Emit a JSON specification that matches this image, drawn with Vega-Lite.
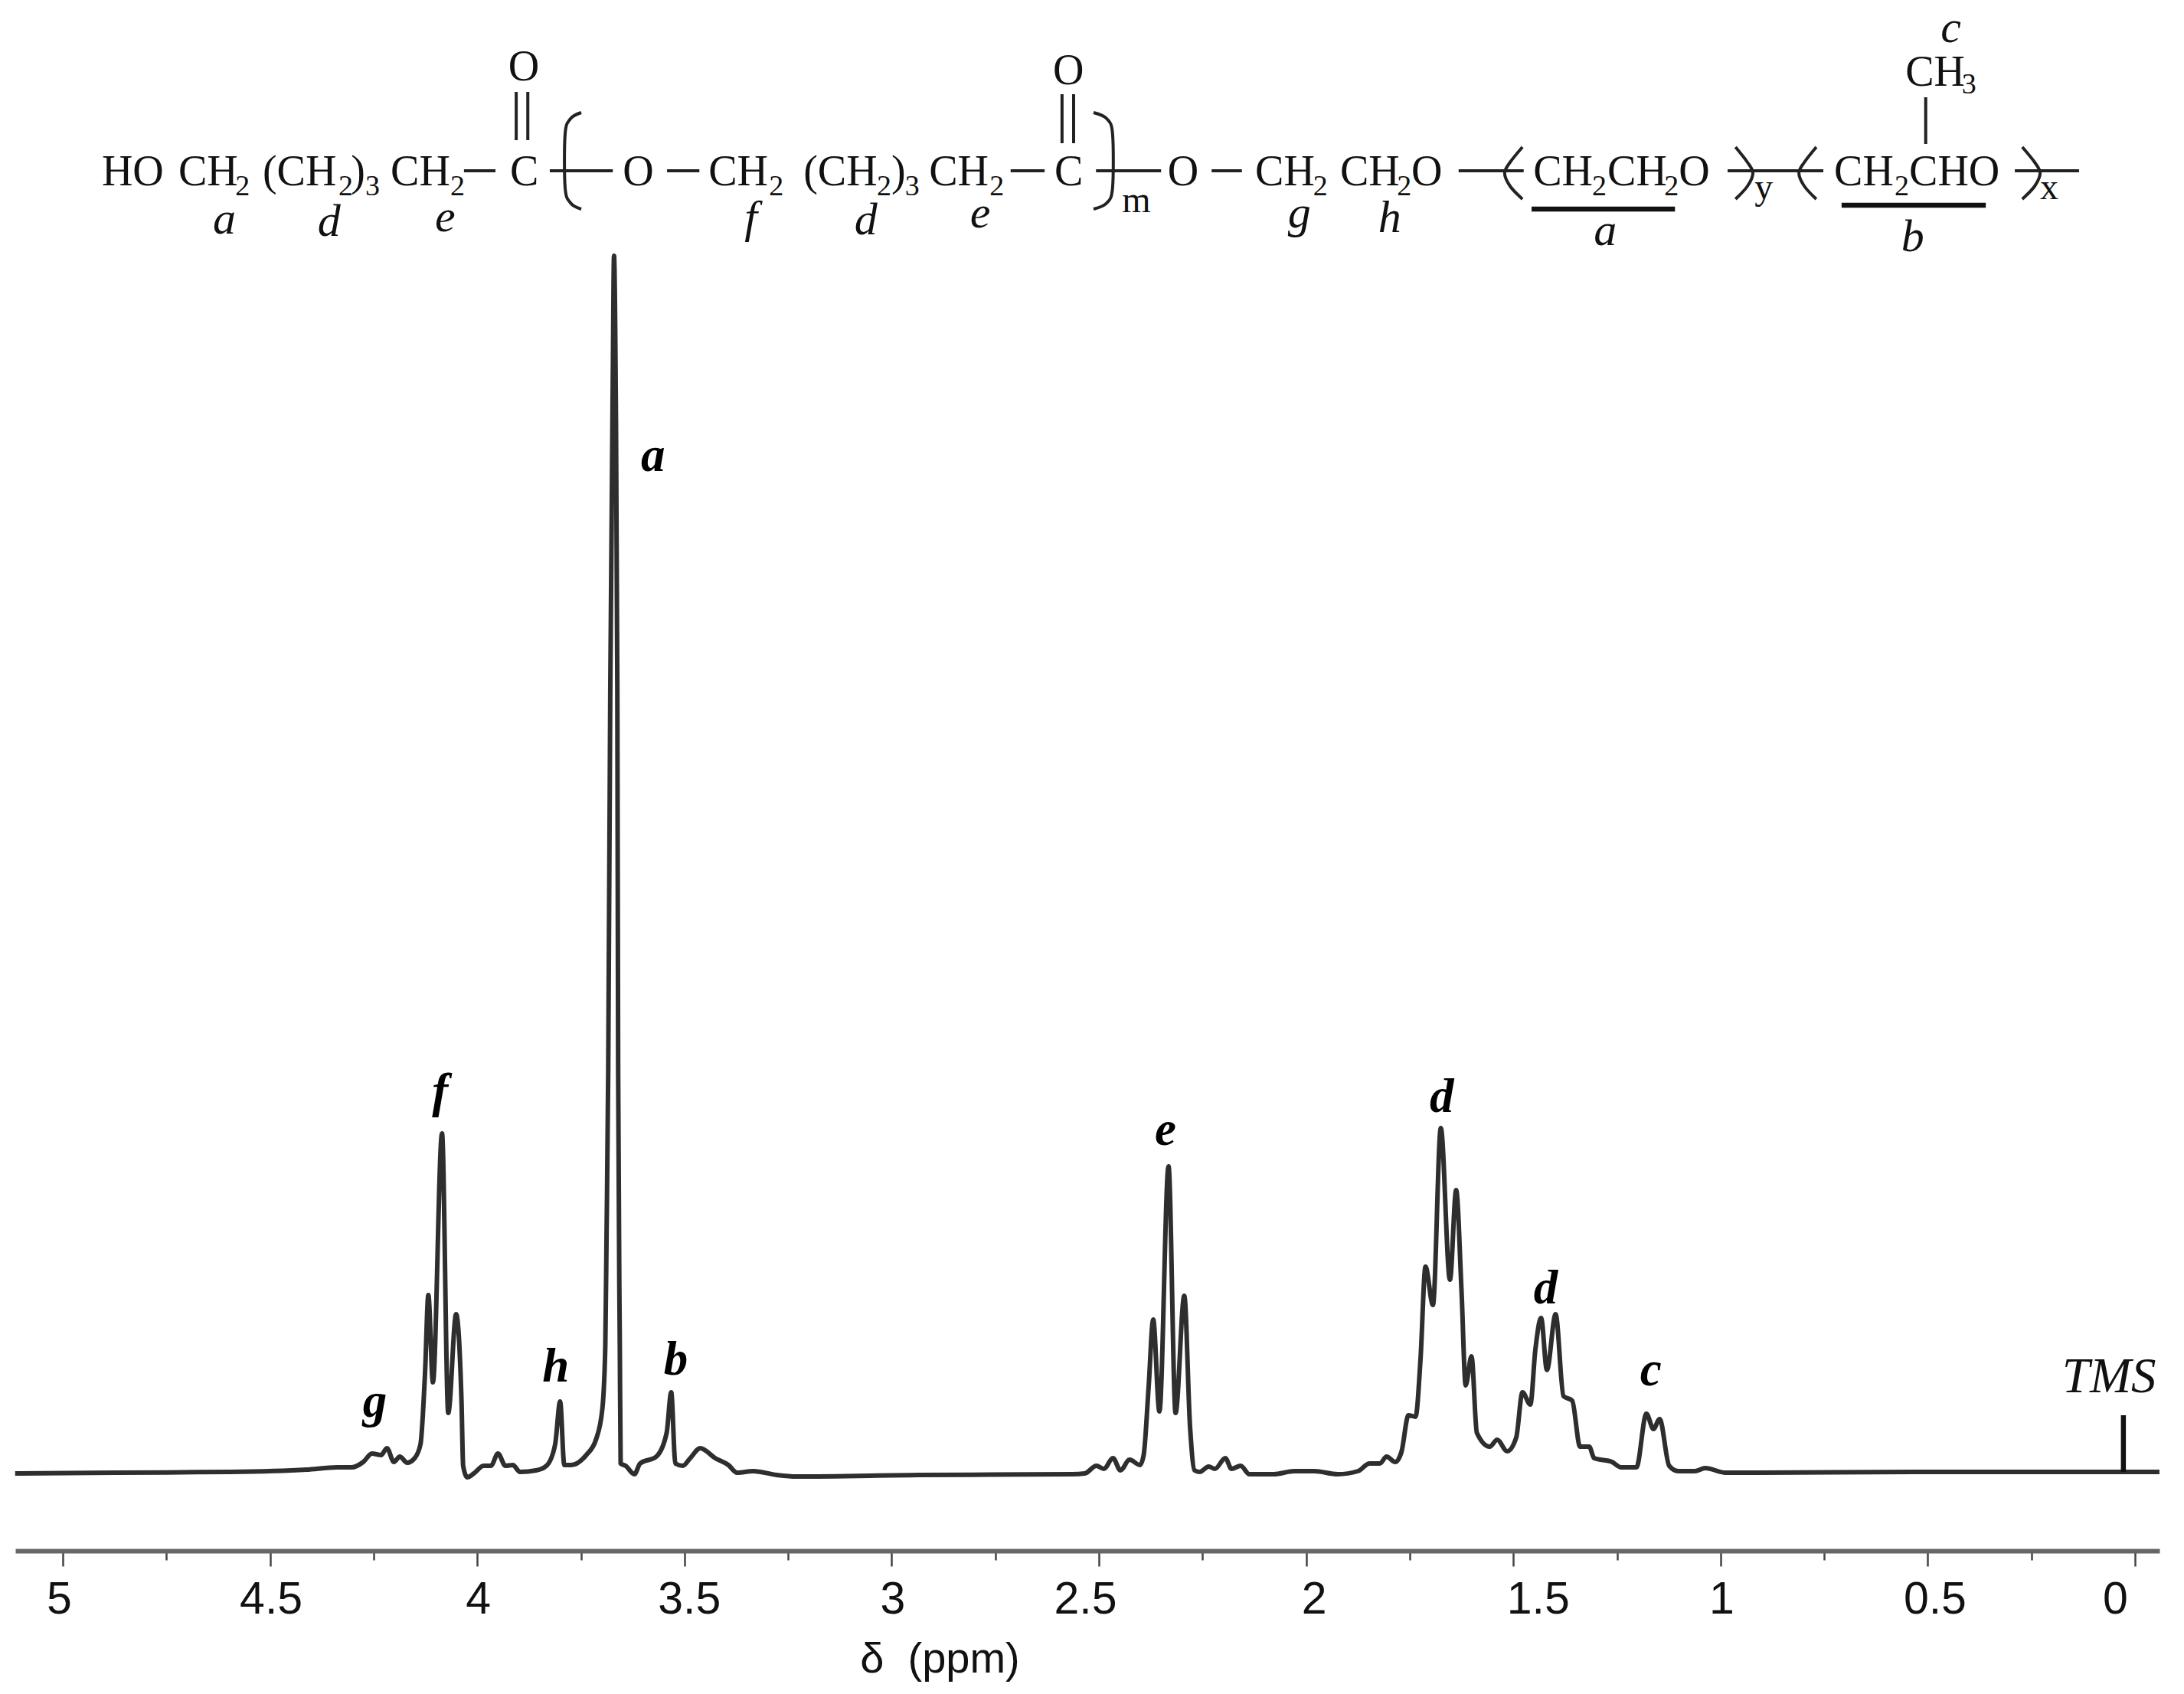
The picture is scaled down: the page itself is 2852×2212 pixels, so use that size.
{
"$schema":"https://vega.github.io/schema/vega-lite/v6.json",
"width":2800,"height":2025,
"autosize":{"type":"none"},
"padding":{"left":20,"top":0,"right":32,"bottom":187},
"background":"white",
"config":{"view":{"stroke":null}},
"datasets":{
"spectrum":[
{"ppm":5.115,"i":-2},{"ppm":4.874,"i":-1},{"ppm":4.597,"i":0},{"ppm":4.412,"i":3},{"ppm":4.338,"i":6},{"ppm":4.303,"i":6},{"ppm":4.275,"i":13},{"ppm":4.254,"i":24},{"ppm":4.232,"i":22},{"ppm":4.218,"i":31},{"ppm":4.201,"i":13},{"ppm":4.187,"i":20},{"ppm":4.169,"i":12},{"ppm":4.151,"i":18},{"ppm":4.137,"i":36},{"ppm":4.126,"i":129},{"ppm":4.118,"i":231},{"ppm":4.107,"i":117},{"ppm":4.085,"i":442},{"ppm":4.070,"i":77},{"ppm":4.051,"i":206},{"ppm":4.038,"i":93},{"ppm":4.034,"i":8},{"ppm":4.024,"i":-7},{"ppm":4.006,"i":-1},{"ppm":3.985,"i":8},{"ppm":3.967,"i":8},{"ppm":3.950,"i":24},{"ppm":3.932,"i":8},{"ppm":3.914,"i":9},{"ppm":3.897,"i":0},{"ppm":3.858,"i":2},{"ppm":3.833,"i":8},{"ppm":3.812,"i":36},{"ppm":3.800,"i":92},{"ppm":3.790,"i":9},{"ppm":3.773,"i":9},{"ppm":3.737,"i":22},{"ppm":3.713,"i":43},{"ppm":3.698,"i":83},{"ppm":3.691,"i":165},{"ppm":3.688,"i":308},{"ppm":3.684,"i":522},{"ppm":3.679,"i":1022},{"ppm":3.673,"i":1422},{"ppm":3.670,"i":1588},{"ppm":3.666,"i":1422},{"ppm":3.662,"i":1022},{"ppm":3.660,"i":522},{"ppm":3.656,"i":165},{"ppm":3.654,"i":11},{"ppm":3.642,"i":8},{"ppm":3.621,"i":-3},{"ppm":3.607,"i":11},{"ppm":3.568,"i":20},{"ppm":3.543,"i":51},{"ppm":3.532,"i":104},{"ppm":3.522,"i":11},{"ppm":3.504,"i":8},{"ppm":3.486,"i":18},{"ppm":3.462,"i":31},{"ppm":3.426,"i":18},{"ppm":3.394,"i":9},{"ppm":3.373,"i":-1},{"ppm":3.334,"i":1},{"ppm":3.278,"i":-4},{"ppm":3.230,"i":-6},{"ppm":2.934,"i":-4},{"ppm":2.565,"i":-3},{"ppm":2.534,"i":-2},{"ppm":2.506,"i":8},{"ppm":2.488,"i":4},{"ppm":2.466,"i":18},{"ppm":2.448,"i":2},{"ppm":2.426,"i":16},{"ppm":2.401,"i":9},{"ppm":2.392,"i":22},{"ppm":2.380,"i":111},{"ppm":2.369,"i":199},{"ppm":2.354,"i":79},{"ppm":2.332,"i":399},{"ppm":2.315,"i":77},{"ppm":2.294,"i":230},{"ppm":2.280,"i":58},{"ppm":2.269,"i":2},{"ppm":2.257,"i":0},{"ppm":2.235,"i":7},{"ppm":2.220,"i":4},{"ppm":2.195,"i":18},{"ppm":2.180,"i":4},{"ppm":2.158,"i":8},{"ppm":2.137,"i":-3},{"ppm":2.078,"i":-3},{"ppm":2.029,"i":1},{"ppm":1.980,"i":1},{"ppm":1.924,"i":-3},{"ppm":1.875,"i":1},{"ppm":1.847,"i":11},{"ppm":1.822,"i":11},{"ppm":1.806,"i":20},{"ppm":1.785,"i":13},{"ppm":1.770,"i":26},{"ppm":1.753,"i":74},{"ppm":1.736,"i":72},{"ppm":1.724,"i":147},{"ppm":1.712,"i":268},{"ppm":1.694,"i":218},{"ppm":1.675,"i":449},{"ppm":1.653,"i":251},{"ppm":1.638,"i":368},{"ppm":1.625,"i":236},{"ppm":1.615,"i":113},{"ppm":1.601,"i":151},{"ppm":1.588,"i":51},{"ppm":1.557,"i":33},{"ppm":1.539,"i":42},{"ppm":1.515,"i":27},{"ppm":1.493,"i":45},{"ppm":1.478,"i":104},{"ppm":1.459,"i":88},{"ppm":1.447,"i":159},{"ppm":1.433,"i":201},{"ppm":1.419,"i":133},{"ppm":1.398,"i":206},{"ppm":1.379,"i":99},{"ppm":1.358,"i":93},{"ppm":1.339,"i":33},{"ppm":1.317,"i":33},{"ppm":1.305,"i":18},{"ppm":1.262,"i":13},{"ppm":1.240,"i":6},{"ppm":1.203,"i":6},{"ppm":1.179,"i":76},{"ppm":1.162,"i":56},{"ppm":1.147,"i":69},{"ppm":1.124,"i":8},{"ppm":1.102,"i":1},{"ppm":1.062,"i":1},{"ppm":1.037,"i":5},{"ppm":0.988,"i":-1},{"ppm":0.902,"i":-1},{"ppm":0.532,"i":0},{"ppm":-0.059,"i":0}
],
"bonds":[
{"id":"b1","n":1,"ppm":4.032,"i":1699},{"id":"b1","n":2,"ppm":3.956,"i":1699},
{"id":"b2","n":1,"ppm":3.825,"i":1699},{"id":"b2","n":2,"ppm":3.673,"i":1699},
{"id":"b3","n":1,"ppm":3.542,"i":1699},{"id":"b3","n":2,"ppm":3.464,"i":1699},
{"id":"b4","n":1,"ppm":2.713,"i":1699},{"id":"b4","n":2,"ppm":2.631,"i":1699},
{"id":"b5","n":1,"ppm":2.507,"i":1699},{"id":"b5","n":2,"ppm":2.350,"i":1699},
{"id":"b6","n":1,"ppm":2.228,"i":1699},{"id":"b6","n":2,"ppm":2.155,"i":1699},
{"id":"b7","n":1,"ppm":1.632,"i":1699},{"id":"b7","n":2,"ppm":1.475,"i":1699},
{"id":"b8","n":1,"ppm":0.983,"i":1699},{"id":"b8","n":2,"ppm":0.752,"i":1699},
{"id":"b9","n":1,"ppm":0.290,"i":1699},{"id":"b9","n":2,"ppm":0.135,"i":1699},
{"id":"d1","n":1,"ppm":3.906,"i":1802},{"id":"d1","n":2,"ppm":3.906,"i":1739},
{"id":"d2","n":1,"ppm":3.878,"i":1802},{"id":"d2","n":2,"ppm":3.878,"i":1739},
{"id":"d3","n":1,"ppm":2.589,"i":1799},{"id":"d3","n":2,"ppm":2.589,"i":1735},
{"id":"d4","n":1,"ppm":2.561,"i":1799},{"id":"d4","n":2,"ppm":2.561,"i":1735},
{"id":"v","n":1,"ppm":0.505,"i":1795},{"id":"v","n":2,"ppm":0.505,"i":1734},
{"id":"L","n":1,"ppm":3.749,"i":1775},{"id":"L","n":2,"ppm":3.775,"i":1767},{"id":"L","n":3,"ppm":3.788,"i":1747},{"id":"L","n":4,"ppm":3.788,"i":1677},{"id":"L","n":5,"ppm":3.775,"i":1657},{"id":"L","n":6,"ppm":3.749,"i":1649},
{"id":"R","n":1,"ppm":2.513,"i":1775},{"id":"R","n":2,"ppm":2.481,"i":1767},{"id":"R","n":3,"ppm":2.467,"i":1747},{"id":"R","n":4,"ppm":2.467,"i":1677},{"id":"R","n":5,"ppm":2.481,"i":1657},{"id":"R","n":6,"ppm":2.513,"i":1649},
{"id":"pa","n":1,"ppm":1.478,"i":1730},{"id":"pa","n":2,"ppm":1.508,"i":1710},{"id":"pa","n":3,"ppm":1.521,"i":1696},{"id":"pa","n":4,"ppm":1.508,"i":1679},{"id":"pa","n":5,"ppm":1.478,"i":1662},
{"id":"pb","n":1,"ppm":0.964,"i":1730},{"id":"pb","n":2,"ppm":0.935,"i":1710},{"id":"pb","n":3,"ppm":0.922,"i":1696},{"id":"pb","n":4,"ppm":0.935,"i":1679},{"id":"pb","n":5,"ppm":0.964,"i":1662},
{"id":"pc","n":1,"ppm":0.769,"i":1730},{"id":"pc","n":2,"ppm":0.798,"i":1710},{"id":"pc","n":3,"ppm":0.811,"i":1696},{"id":"pc","n":4,"ppm":0.798,"i":1679},{"id":"pc","n":5,"ppm":0.769,"i":1662},
{"id":"pd","n":1,"ppm":0.272,"i":1730},{"id":"pd","n":2,"ppm":0.242,"i":1710},{"id":"pd","n":3,"ppm":0.229,"i":1696},{"id":"pd","n":4,"ppm":0.242,"i":1679},{"id":"pd","n":5,"ppm":0.272,"i":1662}
],
"bars":[
{"id":"ua","n":1,"ppm":1.456,"i":1649},{"id":"ua","n":2,"ppm":1.110,"i":1649},
{"id":"ub","n":1,"ppm":0.708,"i":1654},{"id":"ub","n":2,"ppm":0.360,"i":1654},
{"id":"tms","n":1,"ppm":0.028,"i":74},{"id":"tms","n":2,"ppm":0.028,"i":0}
],
"roman":[
{"t":"HO","ppm":4.906,"i":1680},{"t":"CH","ppm":4.721,"i":1680},{"t":"(CH","ppm":4.518,"i":1680},{"t":")","ppm":4.305,"i":1680},{"t":"CH","ppm":4.209,"i":1680},{"t":"C","ppm":3.921,"i":1680},{"t":"O","ppm":3.925,"i":1817},{"t":"O","ppm":3.649,"i":1680},{"t":"CH","ppm":3.442,"i":1680},{"t":"(CH","ppm":3.213,"i":1680},{"t":")","ppm":3.001,"i":1680},{"t":"CH","ppm":2.910,"i":1680},{"t":"C","ppm":2.607,"i":1680},{"t":"O","ppm":2.611,"i":1812},{"t":"O","ppm":2.334,"i":1680},{"t":"CH","ppm":2.123,"i":1680},{"t":"CH","ppm":1.918,"i":1680},{"t":"O","ppm":1.746,"i":1680},{"t":"CH","ppm":1.452,"i":1680},{"t":"CH","ppm":1.273,"i":1680},{"t":"O","ppm":1.101,"i":1680},{"t":"CH","ppm":0.726,"i":1680},{"t":"CHO","ppm":0.545,"i":1680},{"t":"CH","ppm":0.554,"i":1810}
],
"subs":[
{"t":"2","ppm":4.584,"i":1667},{"t":"2","ppm":4.335,"i":1667},{"t":"3","ppm":4.270,"i":1667},{"t":"2","ppm":4.065,"i":1667},{"t":"2","ppm":3.296,"i":1667},{"t":"2","ppm":3.036,"i":1667},{"t":"3","ppm":2.968,"i":1667},{"t":"2","ppm":2.764,"i":1667},{"t":"2","ppm":1.983,"i":1667},{"t":"2","ppm":1.781,"i":1667},{"t":"2","ppm":1.310,"i":1667},{"t":"2","ppm":1.136,"i":1667},{"t":"2","ppm":0.580,"i":1667},{"t":"3","ppm":0.418,"i":1800}
],
"indices":[
{"t":"m","ppm":2.444,"i":1645},{"t":"y","ppm":0.918,"i":1662},{"t":"x","ppm":0.229,"i":1662}
],
"italic":[
{"t":"a","ppm":4.638,"i":1617},{"t":"d","ppm":4.385,"i":1614},{"t":"e","ppm":4.102,"i":1620},{"t":"f","ppm":3.355,"i":1619},{"t":"d","ppm":3.090,"i":1616},{"t":"e","ppm":2.811,"i":1625},{"t":"g","ppm":2.044,"i":1625},{"t":"h","ppm":1.826,"i":1619},{"t":"a","ppm":1.306,"i":1602},{"t":"b","ppm":0.564,"i":1594},{"t":"c","ppm":0.469,"i":1867}
],
"peaks":[
{"t":"f","ppm":4.109,"i":477},{"t":"g","ppm":4.276,"i":72},{"t":"h","ppm":3.843,"i":118},{"t":"b","ppm":3.550,"i":127},{"t":"a","ppm":3.605,"i":1307},{"t":"e","ppm":2.365,"i":427},{"t":"d","ppm":1.702,"i":470},{"t":"d","ppm":1.451,"i":220},{"t":"c","ppm":1.194,"i":113}
],
"tms":[{"t":"TMS","ppm":0.176,"i":104}]
},
"encoding":{
"x":{"field":"ppm","type":"quantitative","scale":{"domain":[5.1146,-0.0591],"nice":false,"zero":false},
"axis":{"values":[5,4.75,4.5,4.25,4,3.75,3.5,3.25,3,2.75,2.5,2.25,2,1.75,1.5,1.25,1,0.75,0.5,0.25,0],
"labelExpr":"datum.value*2%1==0 ? toString(datum.value) : ''",
"labelFont":"Liberation Sans","labelFontSize":59,"labelColor":"#111","labelPadding":14,"labelOverlap":false,"labelFlush":false,"labelBound":false,
"labelOffset":{"expr":"datum.value==5?-5:datum.value==3.5?6:datum.value==2.5?-18:datum.value==2?10:datum.value==1.5?32:datum.value==0.5?9:datum.value==0?-26:1"},
"tickSize":{"expr":"datum.value*2%1==0?20:12"},"tickColor":"#444","tickWidth":2.5,
"domainColor":"#666","domainWidth":6,"grid":false,
"title":"δ\u00a0\u00a0(ppm)","titleFont":"Liberation Sans","titleFontSize":56,"titleFontWeight":"normal","titleColor":"#111","titleX":1207,"titleY":158,"titleBaseline":"alphabetic"}},
"y":{"field":"i","type":"quantitative","scale":{"domain":[-103,1922],"nice":false,"zero":false},"axis":null}
},
"layer":[
{"data":{"name":"spectrum"},"mark":{"type":"line","color":"#2e2e2e","strokeWidth":6,"strokeJoin":"round","interpolate":"monotone"}},
{"data":{"name":"bonds"},"mark":{"type":"line","color":"#222","strokeWidth":4,"interpolate":"cardinal"},"encoding":{"detail":{"field":"id"},"order":{"field":"n"}}},
{"data":{"name":"bars"},"mark":{"type":"line","color":"#111","strokeWidth":6.5},"encoding":{"detail":{"field":"id"},"order":{"field":"n"}}},
{"data":{"name":"roman"},"mark":{"type":"text","font":"Liberation Serif","fontSize":56,"align":"left","baseline":"alphabetic","color":"#111"},"encoding":{"text":{"field":"t"}}},
{"data":{"name":"subs"},"mark":{"type":"text","font":"Liberation Serif","fontSize":38,"align":"left","baseline":"alphabetic","color":"#111"},"encoding":{"text":{"field":"t"}}},
{"data":{"name":"indices"},"mark":{"type":"text","font":"Liberation Serif","fontSize":48,"align":"left","baseline":"alphabetic","color":"#111"},"encoding":{"text":{"field":"t"}}},
{"data":{"name":"italic"},"mark":{"type":"text","font":"Liberation Serif","fontStyle":"italic","fontSize":60,"align":"left","baseline":"alphabetic","color":"#111"},"encoding":{"text":{"field":"t"}}},
{"data":{"name":"peaks"},"mark":{"type":"text","font":"Liberation Serif","fontStyle":"italic","fontWeight":"bold","fontSize":63,"align":"left","baseline":"alphabetic","color":"#000"},"encoding":{"text":{"field":"t"}}},
{"data":{"name":"tms"},"mark":{"type":"text","font":"Liberation Serif","fontStyle":"italic","fontSize":65,"align":"left","baseline":"alphabetic","color":"#111"},"encoding":{"text":{"field":"t"}}}
]
}
